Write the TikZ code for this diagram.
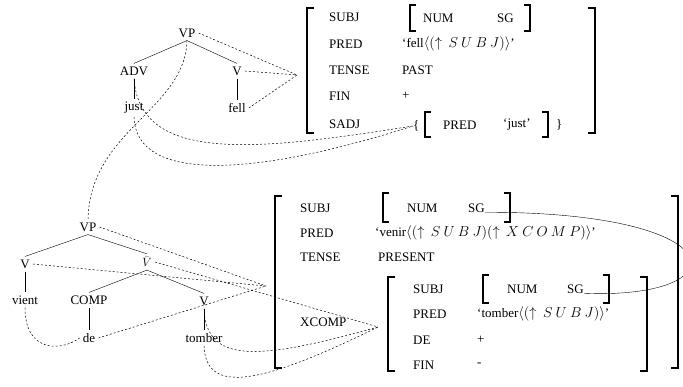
\documentclass[tikz,border=0pt]{standalone}
\usepackage{fontspec}
\setmainfont{Liberation Serif}
\usetikzlibrary{arrows.meta}
\newcommand{\up}{\uparrow\,}
\newcommand{\sk}{\mkern4mu}
\newcommand{\fval}[1]{{\fontsize{14}{16}\selectfont$#1$}}

\begin{document}
\begin{tikzpicture}[x=1pt,y=-1pt,
  font=\fontsize{13}{15}\selectfont,
  cat/.style={inner sep=3pt},
  lbl/.style={anchor=west,inner sep=0pt},
  map/.style={dash pattern=on 2pt off 2pt,line width=0.5pt},
  fbrack/.style={line width=1.3pt}]
\useasboundingbox (0,0) rectangle (683,387);
\clip (0,0) rectangle (683,387);

% English tree
\node [cat] (vpA) at (187,33) {VP};
\node [cat] (advA) at (134,71) {ADV};
\node [cat] (vA) at (237,71) {V};
\node [cat] (justA) at (134,108) {just};
\node [cat] (fellA) at (237,108) {fell};
\draw (vpA.south) -- (advA.north);
\draw (vpA.south) -- (vA.north);
\draw (advA) -- (justA);
\draw (vA) -- (fellA);

% English f-structure
\draw [fbrack] (314,8) -| (307,133) -- (314,133);
\draw [fbrack] (588,8) -| (595,133) -- (588,133);
\node [lbl] (subjA) at (329,17) {SUBJ};
\node [lbl] (predA) at (329,44) {PRED};
\node [lbl] (tenseA) at (329,70) {TENSE};
\node [lbl] (finA) at (329,96) {FIN};
\node [lbl] (sadjA) at (329,124) {SADJ};
\draw [fbrack] (416,5) -| (410,31) -- (416,31);
\draw [fbrack] (524,5) -| (530,31) -- (524,31);
\node [lbl] (numA) at (423,18) {NUM};
\node [lbl] (sgA) at (497,18) {SG};
\node [lbl] (fellvA) at (402,44) {`fell\fval{\langle(\up S\sk U\sk B\sk J)\rangle}'};
\node [lbl] (pastA) at (402,70) {PAST};
\node [lbl] (plusA) at (402,96) {+};
\node [lbl] (lbrA) at (413,126) {\{};
\draw [fbrack] (431,112) -| (425,137) -- (431,137);
\draw [fbrack] (542,112) -| (548,137) -- (542,137);
\node [lbl] (predsA) at (443,125) {PRED};
\node [lbl] (justvA) at (503,125) {`just'};
\node [lbl] (rbrA) at (556,125) {\}};

% English mappings
\coordinate (mA) at (297,75);
\draw [map] (vpA.east) -- (mA);
\draw [map] (vA.east) -- (mA);
\draw [map] (fellA.east) -- (mA);
\draw [map] (advA.south) .. controls (140,165) and (260,150) .. (lbrA.west);
\draw [map] (justA.south) .. controls (136,185) and (260,175) .. (lbrA.west);

% French tree
\node [cat] (vpB) at (88,227) {VP};
\node [cat] (vB) at (25,264) {V};
\node [cat] (vbarB) at (147,262) {$\bar{V}$};
\node [cat] (vientB) at (25,300) {vient};
\node [cat] (compB) at (89,300) {COMP};
\node [cat] (vtB) at (204,301) {V};
\node [cat] (deB) at (89,338) {de};
\node [cat] (tomberB) at (204,338) {tomber};
\draw (vpB.south) -- (vB.north);
\draw (vpB.south) -- (vbarB.north);
\draw (vbarB.south) -- (compB.north);
\draw (vbarB.south) -- (vtB.north);
\draw (vB) -- (vientB);
\draw (compB) -- (deB);
\draw (vtB) -- (tomberB);

\draw [map] (vpA.south) .. controls (185,110) and (90,130) .. (vpB.north);

% French f-structure
\draw [fbrack] (282,196) -| (275,368) -- (282,368);
\draw [fbrack] (671,196) -| (678,368) -- (671,368);
\node [lbl] (subjB) at (300,208) {SUBJ};
\node [lbl] (predB) at (300,233) {PRED};
\node [lbl] (tenseB) at (300,257) {TENSE};
\node [lbl] (xcompB) at (300,322) {XCOMP};
\draw [fbrack] (389,193) -| (383,222) -- (389,222);
\draw [fbrack] (504,193) -| (510,222) -- (504,222);
\node [lbl] (numB) at (407,208) {NUM};
\node [lbl] (sgB) at (468,208) {SG};
\node [lbl] (venirB) at (375,233) {`venir\fval{\langle(\up S\sk U\sk B\sk J)(\up X\sk C\sk O\sk M\sk P)\rangle}'};
\node [lbl] (presB) at (378,257) {PRESENT};

\draw [fbrack] (395,277) -| (388,371) -- (395,371);
\draw [fbrack] (640,277) -| (647,371) -- (640,371);
\node [lbl] (subjX) at (413,289) {SUBJ};
\node [lbl] (predX) at (413,314) {PRED};
\node [lbl] (deX) at (413,340) {DE};
\node [lbl] (finX) at (413,365) {FIN};
\draw [fbrack] (489,275) -| (483,303) -- (489,303);
\draw [fbrack] (603,275) -| (609,303) -- (603,303);
\node [lbl] (numX) at (507,289) {NUM};
\node [lbl] (sgX) at (567,289) {SG};
\node [lbl] (tomberX) at (477,314) {`tomber\fval{\langle(\up S\sk U\sk B\sk J)\rangle}'};
\node [lbl] (plusX) at (477,340) {+};
\node [lbl] (minusX) at (477,365) {-};

% structure sharing
\draw (sgB.base east) .. controls (740,212) and (740,300) .. (sgX.base east);

% French mappings
\coordinate (mB) at (266,286);
\coordinate (mX) at (378,327);
\draw [map] (vpB.east) -- (mB);
\draw [map] (vB.east) -- (mB);
\draw [map] (vbarB.east) -- (mX);
\draw [map] (vientB.south) .. controls (25,352) and (60,352) .. (deB.west);
\draw [map] (deB.east) -- (mB);
\draw [map] (vtB.south) .. controls (206,365) and (260,360) .. (mX);
\draw [map] (tomberB.south) .. controls (206,395) and (260,385) .. (mX);
\end{tikzpicture}
\end{document}
